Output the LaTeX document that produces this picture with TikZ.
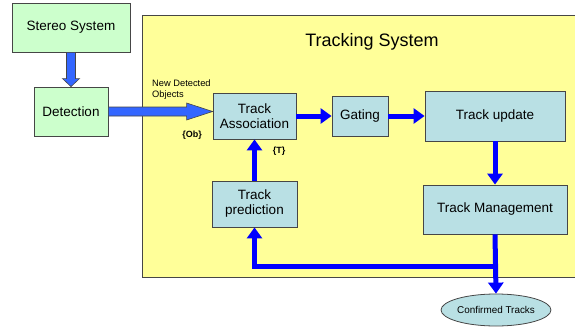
\documentclass[tikz,border=0pt]{standalone}
\usepackage{fontspec}
\setmainfont{Liberation Sans}
\usetikzlibrary{arrows.meta,shapes.geometric,calc}
\definecolor{grn}{RGB}{204, 255, 204}
\definecolor{yel}{RGB}{255, 255, 153}
\definecolor{blu}{RGB}{185, 224, 228}
\definecolor{fat}{RGB}{51, 102, 255}
\definecolor{edg}{RGB}{70, 70, 70}
\tikzset{
  box/.style={draw=edg, line width=0.8pt, align=center, font=\fontsize{13.5}{16}\selectfont, inner sep=2pt},
  flow/.style={draw=blue, line width=5pt, -{Triangle[length=11pt, width=15pt]}},
  fatarr/.style={draw=edg, line width=0.6pt, fill=fat, line join=miter}
}
\begin{document}
\begin{tikzpicture}[x=1pt, y=-1pt]
            \useasboundingbox (0,0) rectangle (575,332);
            \fill[white] (0,0) rectangle (575,332);
            \draw[fill=yel, draw=edg, line width=0.8pt] (142,15) rectangle (580,277);
            \node(title) at (372,42) {\fontsize{18}{20}\selectfont Tracking System};
            \node[box, fill=grn, minimum width=118pt, minimum height=49pt](stereo) at (71,27.5) {Stereo System};
            \node[box, fill=grn, minimum width=74pt, minimum height=49pt](detect) at (71,111.5) {Detection};
            \node[box, fill=blu, minimum width=83pt, minimum height=46pt](assoc) at (254.5,116) {Track\\[-1pt]Association};
            \node[box, fill=blu, minimum width=56pt, minimum height=40pt](gating) at (360,116) {Gating};
            \node[box, fill=blu, minimum width=140pt, minimum height=50pt](update) at (495,116) {Track update};
            \node[box, fill=blu, minimum width=144pt, minimum height=49pt](manage) at (495,209.5) {Track Management};
            \node[box, fill=blu, minimum width=85pt, minimum height=46pt](predict) at (254.5,204) {Track\\[-1pt]prediction};
            \node[box, ellipse, fill=blu, minimum width=98pt, minimum height=32pt, inner sep=0pt, font=\fontsize{9.9}{11}\selectfont](confirmed) at (496,310) {Confirmed Tracks};
            \node[anchor=north west, align=left, inner sep=0pt, font=\fontsize{9.3}{11}\selectfont](newobj) at (152,80) {New Detected\\Objects};
            \node[font=\fontsize{9}{10}\selectfont\bfseries](ob) at (192,135) {\{Ob\}};
            \node[font=\fontsize{9}{10}\selectfont\bfseries](t) at (279,151) {\{T\}};
            \coordinate(split) at (495,266);
            \draw[fatarr] let \p1=(stereo.south), \p2=(detect.north) in
              (\x1-4.5pt,\y1) -- (\x1-4.5pt,\y2+8pt) -- (\x1-8.5pt,\y2+8pt) -- (\x1,\y2)
              -- (\x1+8.5pt,\y2+8pt) -- (\x1+4.5pt,\y2+8pt) -- (\x1+4.5pt,\y1) -- cycle;
            \draw[fatarr] let \p1=(detect.east), \p2=(assoc.west) in
              (\x1,\y1+4.5pt) -- (\x2-26pt,\y1+4.5pt) -- (\x2-26pt,\y1+8.5pt) -- (\x2,\y1)
              -- (\x2-26pt,\y1-8.5pt) -- (\x2-26pt,\y1-4.5pt) -- (\x1,\y1-4.5pt) -- cycle;
            \draw[flow] (assoc) -- (gating);
            \draw[flow] (gating) -- (update);
            \draw[flow] (update) -- (manage);
            \draw[flow] (predict.north) -- (predict.north |- assoc.south);
            \draw[flow] (manage.south) -- (confirmed.north);
            \draw[flow] (split) -| (predict.south);
        \end{tikzpicture}
\end{document}
